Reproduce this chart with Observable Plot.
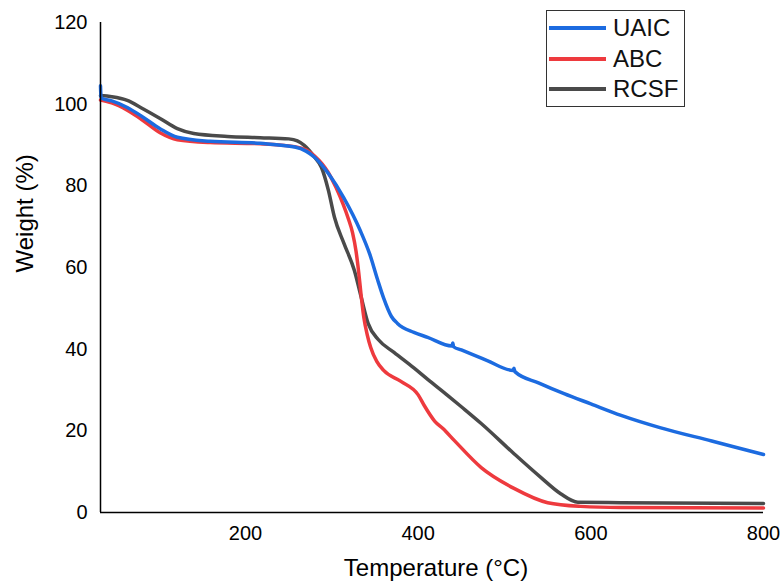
<!DOCTYPE html>
<html><head><meta charset="utf-8">
<script src="https://cdn.jsdelivr.net/npm/d3@7"></script>
<script src="https://cdn.jsdelivr.net/npm/@observablehq/plot@0.6"></script>
<style>
body{margin:0;background:#fff;font-family:"Liberation Sans",Arial,sans-serif;}
#wrap{position:relative;width:780px;height:583px;}
#legend{position:absolute;left:546px;top:10px;width:139px;height:97px;border:1px solid #333;box-sizing:border-box;background:#fff;}
.item{position:absolute;left:2px;height:30px;display:flex;align-items:center;}
.sw{width:57px;height:4px;margin-right:7px;}
.lab{font-size:24px;color:#111;line-height:30px;}
</style></head><body><div id="wrap"></div>
<script>
const seriesNames = ["UAIC", "ABC", "RCSF"];
const seriesColors = ["#1c6be0", "#ee3a3e", "#4a4a4a"];
const drawOrder = ["RCSF", "ABC", "UAIC"];
const xTitle = "Temperature (°C)";
const yTitle = "Weight (%)";
const xTicks = [200, 400, 600, 800];
const yTicks = [0, 20, 40, 60, 80, 100, 120];
const xDomain = [32, 800];
const yDomain = [0, 120];

const uaicT = [32, 32.6, 34, 45, 63, 80, 101, 121, 159, 217, 257, 270, 280, 296, 314, 333, 344, 353, 360, 369, 376, 395, 411, 439, 440, 441, 450, 480, 510, 511, 512, 540, 569, 600, 635, 680, 740, 800];
const uaicW = [104.5, 101.8, 101.4, 100.8, 99.2, 97, 94, 91.9, 90.9, 90.4, 89.5, 88.5, 87, 83, 77, 69, 63.2, 57, 52.5, 48, 46.3, 44.1, 42.9, 40.8, 41.5, 40.6, 39.8, 37.2, 34.8, 35.3, 34.5, 31.7, 29.1, 26.6, 23.8, 20.8, 17.5, 14.2];

const abcT = [32, 45, 63, 80, 101, 121, 159, 217, 257, 270, 280, 296, 305, 313, 319, 324, 328, 331, 334, 337, 341, 345, 352, 360, 380, 400, 407, 419, 429, 442, 473, 511, 550, 588, 635, 800];
const abcW = [101, 100.3, 98.5, 96.2, 93, 91.3, 90.6, 90.3, 89.6, 88.8, 87.3, 83.2, 79.5, 75.5, 72, 68.5, 64, 59, 53, 47.8, 43.5, 40.4, 37, 34.8, 32.1, 28.8, 26.2, 22.4, 20.5, 17.6, 11, 5.9, 2.4, 1.5, 1.2, 1.1];

const rcsfT = [32, 45, 63, 80, 101, 121, 140, 179, 217, 250, 260, 268, 280, 288, 296, 303, 314, 326, 334, 342, 354, 372, 395, 411, 434, 450, 473, 511, 542, 565, 585, 635, 800];
const rcsfW = [102.1, 101.8, 100.9, 99, 96.5, 94, 92.8, 92.1, 91.8, 91.5, 91, 89.9, 87, 84.5, 78.9, 72.3, 65.9, 59.3, 52.7, 46.3, 42.3, 39.2, 35.4, 32.6, 28.7, 25.9, 21.8, 14.4, 8.6, 4.6, 2.5, 2.4, 2.2];

const seriesT = {UAIC: uaicT, ABC: abcT, RCSF: rcsfT};
const seriesW = {UAIC: uaicW, ABC: abcW, RCSF: rcsfW};
const rows = drawOrder.flatMap(name => seriesT[name].map((t, j) => ({series: name, t, w: seriesW[name][j]})));

const chart = Plot.plot({
  width: 780,
  height: 583,
  marginLeft: 100,
  marginRight: 17,
  marginTop: 22,
  marginBottom: 71,
  style: {fontFamily: "'Liberation Sans', Arial, sans-serif", fontSize: "20px", color: "#000", background: "#fff"},
  x: {domain: xDomain, axis: null},
  y: {domain: yDomain, axis: null},
  color: {domain: seriesNames, range: seriesColors},
  marks: [
    Plot.axisX({ticks: xTicks, tickSize: 0, tickPadding: 13, fontSize: 20, label: null}),
    Plot.axisY({ticks: yTicks, tickSize: 0, tickPadding: 13, fontSize: 20, label: null}),
    Plot.line(rows, {x: "t", y: "w", z: "series", stroke: "series", strokeWidth: 3.5, curve: "monotone-x"}),
    Plot.ruleX([xDomain[0]], {stroke: "#000", strokeWidth: 1.5}),
    Plot.ruleY([yDomain[0]], {stroke: "#000", strokeWidth: 1.5}),
    Plot.text([xTitle], {frameAnchor: "bottom", dy: 63, dx: 4, fontSize: 24, fill: "#000"}),
    Plot.text([yTitle], {frameAnchor: "left", dx: -75, dy: 5, rotate: -90, fontSize: 24, fill: "#000"})
  ]
});
const wrap = document.getElementById("wrap");
wrap.appendChild(chart);

const legend = document.createElement("div");
legend.id = "legend";
seriesNames.forEach((name, i) => {
  const item = document.createElement("div");
  item.className = "item";
  item.style.top = (2 + i * 30.5) + "px";
  const sw = document.createElement("div");
  sw.className = "sw";
  sw.style.background = seriesColors[i];
  const lab = document.createElement("span");
  lab.className = "lab";
  lab.textContent = name;
  item.appendChild(sw);
  item.appendChild(lab);
  legend.appendChild(item);
});
wrap.appendChild(legend);
</script>
</body></html>
